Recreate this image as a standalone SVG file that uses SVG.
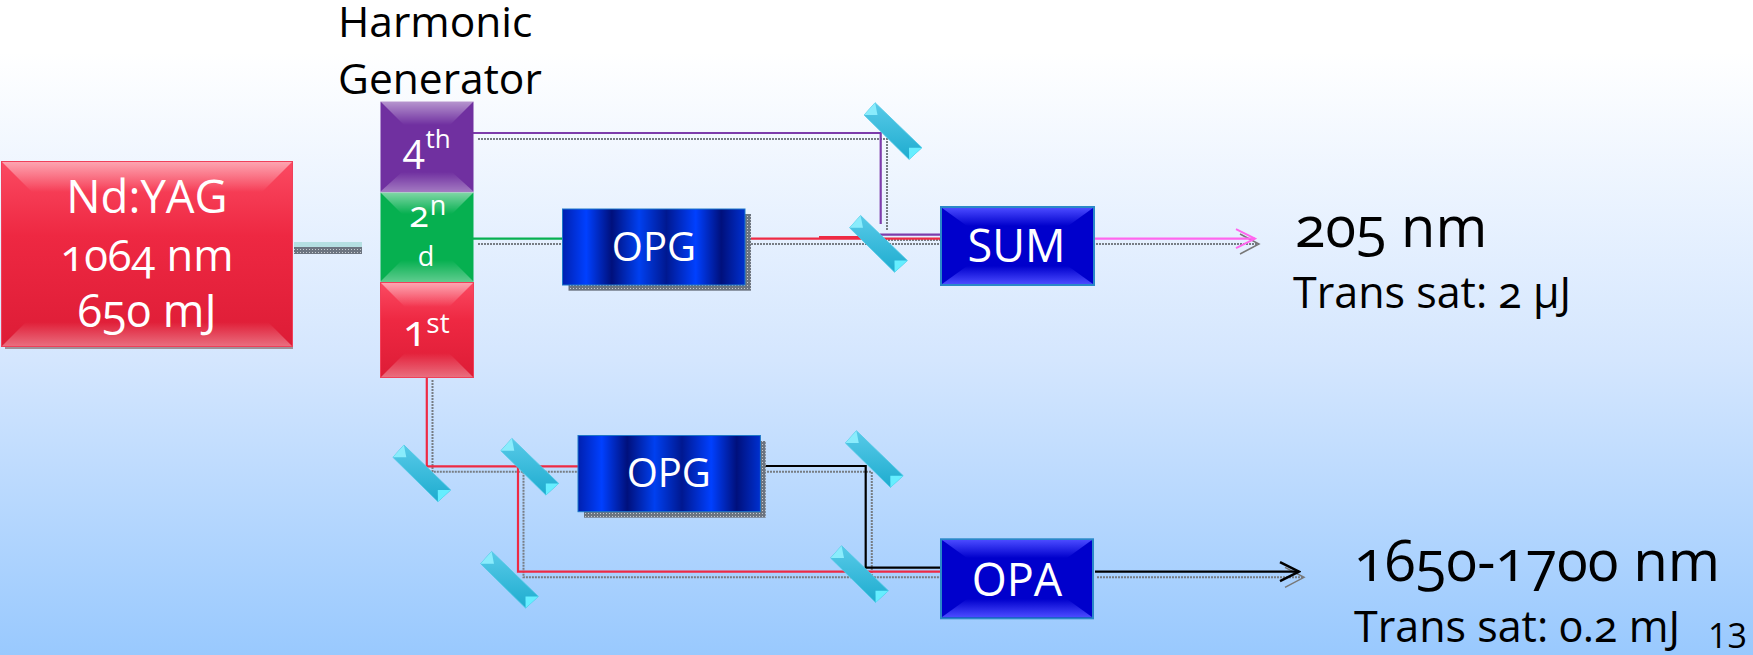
<svg xmlns="http://www.w3.org/2000/svg" width="1753" height="655" viewBox="0 0 1753 655">
<defs>
<linearGradient id="bg" x1="0" y1="0" x2="0" y2="1"><stop offset="0" stop-color="#ffffff"/><stop offset="0.08" stop-color="#ffffff"/><stop offset="0.55" stop-color="#d4e6fe"/><stop offset="1" stop-color="#99c9fe"/></linearGradient>
<linearGradient id="redG" x1="0" y1="0" x2="0" y2="1"><stop offset="0" stop-color="#fb4a62"/><stop offset="0.4" stop-color="#ee2842"/><stop offset="1" stop-color="#dd1c36"/></linearGradient>
<linearGradient id="hiT" x1="0" y1="0" x2="0" y2="1"><stop offset="0" stop-color="#fff" stop-opacity="0.5"/><stop offset="1" stop-color="#fff" stop-opacity="0"/></linearGradient>
<linearGradient id="hiB" x1="0" y1="1" x2="0" y2="0"><stop offset="0" stop-color="#fff" stop-opacity="0.36"/><stop offset="1" stop-color="#fff" stop-opacity="0"/></linearGradient>
<linearGradient id="bluT" x1="0" y1="0" x2="0" y2="1"><stop offset="0" stop-color="#4a4aff"/><stop offset="1" stop-color="#0000cc"/></linearGradient>
<linearGradient id="bluB" x1="0" y1="1" x2="0" y2="0"><stop offset="0" stop-color="#4a4aff"/><stop offset="1" stop-color="#0000cc"/></linearGradient>
<linearGradient id="opgG" x1="0" y1="0" x2="1" y2="0"><stop offset="0" stop-color="#0020b0"/><stop offset="0.13" stop-color="#0040ff"/><stop offset="0.27" stop-color="#00107c"/><stop offset="0.42" stop-color="#0040f0"/><stop offset="0.57" stop-color="#001890"/><stop offset="0.73" stop-color="#0040ff"/><stop offset="0.87" stop-color="#00107c"/><stop offset="1" stop-color="#0030d0"/></linearGradient>
<linearGradient id="mirG" x1="0" y1="0" x2="0" y2="1"><stop offset="0" stop-color="#58cae8"/><stop offset="1" stop-color="#1eaccf"/></linearGradient>
<pattern id="hatch" width="3" height="3" patternUnits="userSpaceOnUse"><rect width="3" height="3" fill="#6c7480"/><rect width="1" height="1" fill="#c8ccd0"/></pattern>
<marker id="arrP" markerUnits="userSpaceOnUse" markerWidth="22" markerHeight="24" refX="20" refY="12" orient="auto"><path d="M1 2.500L20 12L1 21.500" fill="none" stroke="#ff66ee" stroke-width="2"/></marker>
<marker id="arrK" markerUnits="userSpaceOnUse" markerWidth="22" markerHeight="24" refX="20" refY="12" orient="auto"><path d="M1 2.500L20 12L1 21.500" fill="none" stroke="#000" stroke-width="2.500"/></marker>
<marker id="arrS" markerUnits="userSpaceOnUse" markerWidth="22" markerHeight="24" refX="20" refY="12" orient="auto"><path d="M1 2L20 12L1 22" fill="none" stroke="#777" stroke-width="1.500"/></marker>
<g id="mirror"><path d="M-17.900 -28.300L-28.900 -16L16.100 28.400L28.900 16.700Z" fill="url(#mirG)" stroke="#4cc8e4" stroke-width="0.800"/><path d="M-17.900 -28.300L-28.900 -16L-15.500 -16Z" fill="#8aecfc"/><path d="M16.100 28.400L28.900 16.700L16 16.700Z" fill="#66eeff"/></g>
</defs>
<style>
text{font-family:"Open Sans","Noto Sans","Liberation Sans",sans-serif;font-variant-numeric:oldstyle-nums}
.w{fill:#fff;text-anchor:middle}
.k{fill:#000}
.s{fill:none;stroke:#777d84;stroke-width:2;stroke-dasharray:2 1}
.l{fill:none;stroke-width:2.200}
</style>
<rect width="1753" height="655" fill="url(#bg)"/>
<g id="connectors">
<rect x="294" y="242" width="68" height="5" fill="#b5dfe2"/>
<rect x="294" y="247" width="68" height="7" fill="url(#hatch)"/>
<path class="s" d="M478 139H887V230M478 244H563M745 244H941M885 240H941M432.500 380V471.700H578M523.500 471.700V577.300H941M764 471.700H871.800V577.300M1096 244H1259M1097 577.300H1304"/>
<path class="l" stroke="#7d3cab" d="M473 133H880.700V224M880 234.700H941"/>
<path class="l" stroke="#06b050" d="M473 238.700H563"/>
<path class="l" stroke="#ee2a44" d="M745 238.700H941M819 237H880"/>
<path class="l" stroke="#ee2a44" d="M426.800 377V466.300H578M518 466.300V571.700H941"/>
<path class="l" stroke="#000" d="M760 466H865.700V567.700H941"/>
<path fill="none" d="M1240 244H1259" marker-end="url(#arrS)"/>
<path class="l" stroke="#ff66ee" d="M1095 238.700H1255" marker-end="url(#arrP)"/>
<path fill="none" d="M1280 577.300H1304" marker-end="url(#arrS)"/>
<path class="l" stroke="#000" d="M1095 571.700H1299" marker-end="url(#arrK)"/>
</g>
<g id="nd-yag"><rect x="5" y="165" width="288" height="184" fill="#a09098"/><rect x="1.500" y="161.500" width="291" height="185" fill="url(#redG)" stroke="#f0405a"/><path d="M2 162H292L262 192H32Z" fill="url(#hiT)"/><path d="M2 346H292L268 322H26Z" fill="url(#hiB)"/><text class="w" font-size="45.500" x="147" y="212.700">Nd:YAG</text><text class="w" font-size="43.500" x="147" y="270.700">1064 nm</text><text class="w" font-size="45" x="147" y="327">650 mJ</text></g>
<g id="fourth"><rect x="380.500" y="101.500" width="93" height="91" fill="#7030a0"/><path d="M380 101H474L450 125H404Z" fill="url(#hiT)"/><path d="M380 192H474L452 172H402Z" fill="url(#hiB)"/><text class="w" font-size="40" x="414" y="162">4</text><text class="w" font-size="26" x="438" y="148.300">th</text></g>
<g id="second"><rect x="380.500" y="192.500" width="93" height="90" fill="#06b050"/><path d="M380 192H474L452 214H402Z" fill="url(#hiT)"/><path d="M380 282H474L452 260H402Z" fill="url(#hiB)"/><text class="w" font-size="36" x="419" y="227">2</text><text class="w" font-size="27" x="438" y="215">n</text><text class="w" font-size="27" x="426" y="265.700">d</text></g>
<g id="first"><rect x="380.500" y="282.500" width="93" height="95" fill="url(#redG)" stroke="#f0405a"/><path d="M381 283H473L449 307H405Z" fill="url(#hiT)"/><path d="M381 377H473L449 353H405Z" fill="url(#hiB)"/><text class="w" font-size="44" x="415" y="346">1</text><text class="w" font-size="28" x="438" y="332.700">st</text></g>
<g id="opg1"><rect x="568.500" y="214" width="182.500" height="76.700" fill="url(#hatch)"/><rect x="562.500" y="209" width="182.500" height="76" fill="url(#opgG)" stroke="#1e78c8"/><text class="w" font-size="40" x="654" y="261">OPG</text></g>
<g id="opg2"><rect x="584" y="441" width="181.700" height="76.700" fill="url(#hatch)"/><rect x="578" y="435.500" width="182.400" height="76.200" fill="url(#opgG)" stroke="#1e78c8"/><text class="w" font-size="40" x="668.800" y="487.300">OPG</text></g>
<g id="sum"><rect x="941" y="207" width="153" height="78" fill="#0000cc" stroke="#2a88c8" stroke-width="2"/><path d="M942 208H1093L1068 226H967Z" fill="url(#bluT)"/><path d="M942 284H1093L1068 266H967Z" fill="url(#bluB)"/><text class="w" font-size="45" x="1016.500" y="261.700">SUM</text></g>
<g id="opa"><rect x="941" y="539.300" width="152" height="79" fill="#0000cc" stroke="#2a88c8" stroke-width="2"/><path d="M942 540H1092L1067 558H967Z" fill="url(#bluT)"/><path d="M942 617H1092L1067 599H967Z" fill="url(#bluB)"/><text class="w" font-size="45" x="1017" y="596">OPA</text></g>
<g id="m1"><use href="#mirror" x="893" y="131"/></g>
<g id="m2"><use href="#mirror" x="878.500" y="243.800"/></g>
<g id="m3"><use href="#mirror" x="421.800" y="473.300"/></g>
<g id="m4"><use href="#mirror" x="529.800" y="466.700"/></g>
<g id="m5"><use href="#mirror" x="509.500" y="579.700"/></g>
<g id="m6"><use href="#mirror" x="874.300" y="459"/></g>
<g id="m7"><use href="#mirror" x="859.500" y="574"/></g>
<text class="k" font-size="42.500" x="338" y="37">Harmonic</text>
<text class="k" font-size="42.500" x="338" y="94">Generator</text>
<text class="k" font-size="56" x="1295" y="246.700">205 nm</text>
<text class="k" font-size="43" x="1293" y="308">Trans sat: 2 μJ</text>
<text class="k" font-size="56.500" x="1354" y="580.700">1650-1700 nm</text>
<text class="k" font-size="43" x="1354" y="641.700">Trans sat: 0.2 mJ</text>
<text class="k" font-size="34" x="1708" y="648" style="font-variant-numeric:lining-nums">13</text>
</svg>
